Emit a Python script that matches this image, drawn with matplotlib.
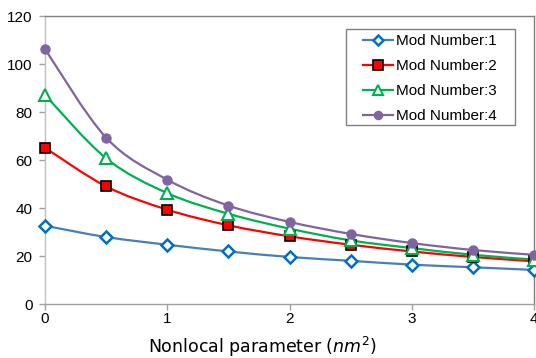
import numpy as np
import matplotlib
matplotlib.use("Agg")
import matplotlib.pyplot as plt
from matplotlib.path import Path
from matplotlib.patches import PathPatch, Rectangle
from matplotlib.lines import Line2D

# nonlocal parameter (nm^2)
mu = [0, 0.5, 1, 1.5, 2, 2.5, 3, 3.5, 4]

mode1 = [32.6, 27.9, 24.7, 21.9, 19.6, 18.0, 16.4, 15.3, 14.2]
mode2 = [65.1, 49.0, 39.3, 32.8, 28.2, 24.7, 21.9, 19.6, 17.8]
mode3 = [87.1, 60.7, 46.2, 37.6, 31.4, 26.5, 23.3, 20.5, 18.5]
mode4 = [106.2, 69.3, 51.8, 41.0, 34.2, 29.2, 25.4, 22.5, 20.5]

labels = ['Mod Number:1', 'Mod Number:2', 'Mod Number:3', 'Mod Number:4']
yticks = [0, 20, 40, 60, 80, 100, 120]
xticks = [0, 1, 2, 3, 4]


def smooth_path(x, y):
    """Excel style smoothed line: bezier segments through every point."""
    pts = np.column_stack([x, y]).astype(float)
    n = len(pts)
    verts = [pts[0]]
    codes = [Path.MOVETO]
    for i in range(n - 1):
        p0 = pts[max(i - 1, 0)]
        p1 = pts[i]
        p2 = pts[i + 1]
        p3 = pts[min(i + 2, n - 1)]
        c1 = p1 + (p2 - p0) / 6.0
        c2 = p2 - (p3 - p1) / 6.0
        verts += [c1, c2, p2]
        codes += [Path.CURVE4] * 3
    return Path(verts, codes)


plt.rcParams['font.family'] = ['Liberation Sans', 'DejaVu Sans']
plt.rcParams['mathtext.fontset'] = 'dejavusans'

fig = plt.figure(figsize=(5.36, 3.58), dpi=100)
ax = fig.add_axes([45 / 536, 54 / 358, 489 / 536, 288 / 358])

styles = [
    dict(color='#4A7EBB', marker='D', mfc='white', mec='#0070C0', ms=6, mew=1.8),
    dict(color='#FF0000', marker='s', mfc='#FF0000', mec='black', ms=7.5, mew=1.2),
    dict(color='#00B050', marker='^', mfc='white', mec='#00B050', ms=8.5, mew=1.5),
    dict(color='#8064A2', marker='o', mfc='#8064A2', mec='#8064A2', ms=6.5, mew=1),
]

handles = []
for ys, st, lab in zip([mode1, mode2, mode3, mode4], styles, labels):
    patch = PathPatch(smooth_path(mu, ys), fill=False, edgecolor=st['color'],
                      lw=1.6, zorder=2)
    ax.add_patch(patch)
    ax.plot(mu, ys, linestyle='none', marker=st['marker'], mfc=st['mfc'],
            mec=st['mec'], ms=st['ms'], mew=st['mew'], clip_on=False, zorder=3)
    handles.append(Line2D([], [], color=st['color'], lw=1.6, marker=st['marker'],
                          mfc=st['mfc'], mec=st['mec'], ms=st['ms'] * 0.9,
                          mew=st['mew']))

ax.set_xlim(0, 4)
ax.set_ylim(0, 120)
ax.set_xticks(xticks)
ax.set_yticks(yticks)
ax.tick_params(labelsize=11, length=4, color='#A0A0A0', width=1)
ax.tick_params(axis='x', pad=2)
ax.tick_params(axis='y', pad=5)

ax.spines['left'].set_color('#C0C0C0')
ax.spines['bottom'].set_color('#A0A0A0')
ax.spines['top'].set_color('#808080')
ax.spines['right'].set_color('#808080')
for s in ax.spines.values():
    s.set_linewidth(1)

fig.text(262 / 536, 5 / 358, 'Nonlocal parameter ($nm^2$)', fontsize=12.5,
         family='DejaVu Sans', ha='center', va='baseline')

# legend box
ax.add_patch(Rectangle((0.6155, 0.6215), 0.3456, 0.3334, transform=ax.transAxes,
                       facecolor='white', edgecolor='#808080', lw=1, zorder=4))
leg = ax.legend(handles, labels, loc='upper left', bbox_to_anchor=(0.650, 0.937),
                fontsize=11, frameon=False, handlelength=2.0,
                handletextpad=0.2, labelspacing=0.72, borderpad=0,
                borderaxespad=0)
leg.set_zorder(5)

fig.savefig('out.png', dpi=100)
